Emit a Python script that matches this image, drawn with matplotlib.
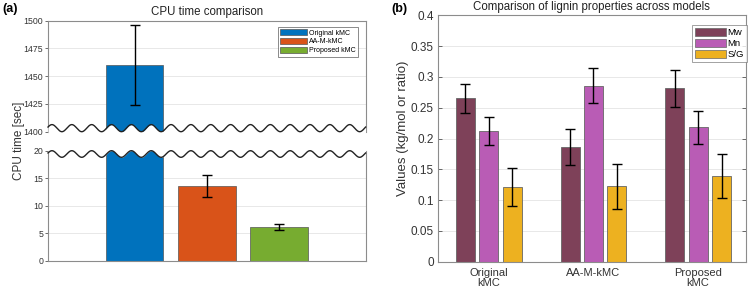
import numpy as np
import matplotlib
matplotlib.use("Agg")
import matplotlib.pyplot as plt
from matplotlib.patches import Patch

plt.rcParams['font.family'] = ['Liberation Sans', 'DejaVu Sans']

# ---------------- data ----------------
cpu_models = ["Original kMC", "AA-M-kMC", "Proposed kMC"]
cpu_time = [1460, 13.6, 6.1]
cpu_err = [36, 2.0, 0.55]
cpu_colors = ["#0072BD", "#D95319", "#77AC30"]

groups = ["Original\nkMC", "AA-M-kMC", "Proposed\nkMC"]
props = ["Mw", "Mn", "S/G"]
mw = [0.265, 0.186, 0.2815]
mw_err = [0.024, 0.029, 0.030]
mn = [0.2127, 0.2857, 0.218]
mn_err = [0.0225, 0.028, 0.0265]
sg = [0.1213, 0.1224, 0.139]
sg_err = [0.031, 0.037, 0.0355]
prop_colors = ["#7E4159", "#B95CB5", "#EDB120"]

a_yticks_top = [1400, 1425, 1450, 1475, 1500]
a_yticks_bot = [0, 5, 10, 15, 20]
b_yticks = [0, 0.05, 0.1, 0.15, 0.2, 0.25, 0.3, 0.35, 0.4]

W, H = 750, 292
fig = plt.figure(figsize=(W / 100, H / 100), dpi=100)

spine_c = "#8C8C8C"
grid_c = "#E8E8E8"
tick_c = "#333333"

def fx(px):
    return px / W

def fy(py):
    return 1 - py / H

# ---------------- panel (a) ----------------
axl, axr = 48, 365.6
ax_top = fig.add_axes([fx(axl), fy(131.7), fx(axr - axl), fy(20.7) - fy(131.7)])
ax_bot = fig.add_axes([fx(axl), fy(260.7), fx(axr - axl), fy(150.7) - fy(260.7)])

xpos = np.arange(1, len(cpu_models) + 1)
for ax in (ax_top, ax_bot):
    for i in range(len(cpu_models)):
        ax.bar(xpos[i], cpu_time[i], width=0.8, color=cpu_colors[i],
               edgecolor="#555555", linewidth=0.5, zorder=2, label=cpu_models[i])
        ax.errorbar(xpos[i], cpu_time[i], yerr=cpu_err[i], fmt="none",
                    ecolor="black", elinewidth=1.0, capsize=3.8, capthick=1.0, zorder=3)
    ax.set_xlim(-0.2, 4.2)
    ax.set_xticks([])
    ax.grid(axis="y", color=grid_c, linewidth=0.7, zorder=0)
    ax.set_axisbelow(True)
    ax.tick_params(axis="y", labelsize=6.3, colors=tick_c, length=2, width=0.5,
                   direction="out", pad=1.5)
    for s in ax.spines.values():
        s.set_color(spine_c)
        s.set_linewidth(0.8)

ax_top.set_ylim(1400, 1500)
ax_top.set_yticks(a_yticks_top)
ax_top.spines["bottom"].set_visible(False)
ax_bot.set_ylim(0, 20)
ax_bot.set_yticks(a_yticks_bot)
ax_bot.spines["top"].set_visible(False)

# wavy break
xw = np.linspace(-0.2, 4.2, 800)
period = 4.4 / 16
phase = -0.2 + 0.2 * period
cw = np.cos(2 * np.pi * (xw - phase) / period)
top_wave = 1400 + 3.2 * (1 + cw)
bot_wave = 20 - 0.6 * (1 - cw)
ax_top.fill_between(xw, 1399.5, top_wave, color="white", zorder=4, clip_on=False, linewidth=0)
ax_top.plot(xw, top_wave, color="#222222", linewidth=1.0, zorder=5, clip_on=False)
ax_bot.fill_between(xw, bot_wave, 20.2, color="white", zorder=4, clip_on=False, linewidth=0)
ax_bot.plot(xw, bot_wave, color="#222222", linewidth=1.0, zorder=5, clip_on=False)

ax_top.set_title("CPU time comparison", fontsize=8.3, pad=4, color="#222222")
fig.text(fx(19), fy(141), "CPU time [sec]", rotation=90, ha="center", va="center",
         fontsize=8.5, color="#333333")
fig.text(fx(2), fy(9), "(a)", fontsize=9, fontweight="bold", ha="left", va="center")

handles = [Patch(facecolor=c, edgecolor="#555555", linewidth=0.5) for c in cpu_colors]
leg = ax_top.legend(handles, cpu_models, loc="upper right", fontsize=5,
                    frameon=True, fancybox=False, edgecolor="#555555",
                    borderpad=0.35, labelspacing=0.2, handlelength=3.9,
                    handleheight=1.0, handletextpad=0.3, borderaxespad=0,
                    bbox_to_anchor=(0.977, 0.946))
leg.get_frame().set_linewidth(0.6)
leg.set_zorder(10)

# ---------------- panel (b) ----------------
bl, br = 438, 745.7
axb = fig.add_axes([fx(bl), fy(261.7), fx(br - bl), fy(15.3) - fy(261.7)])
gx = np.arange(1, len(groups) + 1)
step = 0.223
bw = 0.18
series = [(mw, mw_err), (mn, mn_err), (sg, sg_err)]
for k, (vals, errs) in enumerate(series):
    xs = gx + (k - 1) * step
    axb.bar(xs, vals, width=bw, color=prop_colors[k], edgecolor="#666666",
            linewidth=0.6, zorder=2, label=props[k])
    axb.errorbar(xs, vals, yerr=errs, fmt="none", ecolor="black",
                 elinewidth=1.0, capsize=3.6, capthick=1.0, zorder=3)
axb.set_xlim(0.515, 3.454)
axb.set_ylim(0, 0.4)
axb.set_yticks(b_yticks)
axb.set_yticklabels(["0", "0.05", "0.1", "0.15", "0.2", "0.25", "0.3", "0.35", "0.4"])
axb.set_xticks(gx)
axb.set_xticklabels(groups, linespacing=1.0)
axb.grid(axis="y", color=grid_c, linewidth=0.7, zorder=0)
axb.set_axisbelow(True)
axb.tick_params(axis="y", labelsize=8.5, colors=tick_c, length=3, width=0.5,
                direction="in", right=True, pad=3)
axb.tick_params(axis="x", labelsize=8, colors=tick_c, length=0, pad=4.5)
for s in axb.spines.values():
    s.set_color(spine_c)
    s.set_linewidth(0.8)
axb.set_title("Comparison of lignin properties across models", fontsize=8.3, pad=4,
              color="#222222")
fig.text(fx(403), fy(128), "Values (kg/mol or ratio)", rotation=90, ha="center",
         va="center", fontsize=9.5, color="#333333")
fig.text(fx(391), fy(9), "(b)", fontsize=9, fontweight="bold", ha="left", va="center")

hb = [Patch(facecolor=c, edgecolor="#666666", linewidth=0.5) for c in prop_colors]
legb = axb.legend(hb, props, loc="upper right", fontsize=6.8, frameon=True,
                  fancybox=False, edgecolor="#777777", borderpad=0.3,
                  labelspacing=0.15, handlelength=3.3, handleheight=1.0,
                  handletextpad=0.2, borderaxespad=0,
                  bbox_to_anchor=(1.004, 0.96))
legb.get_frame().set_linewidth(0.6)

fig.savefig("out.png", dpi=100)
